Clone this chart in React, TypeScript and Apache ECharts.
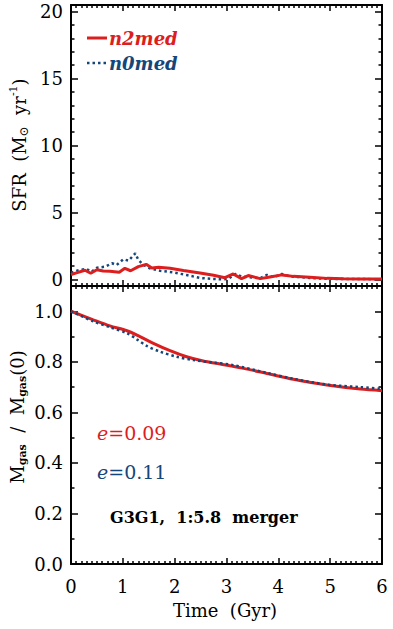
import React, { useEffect, useRef } from "react";
import * as echarts from "echarts";

// ---- data ----
const sfrTimeN2 = [0, 0.12, 0.27, 0.38, 0.5, 0.62, 0.75, 0.93, 1.04, 1.15, 1.3, 1.45, 1.56, 1.69, 1.91, 2.17, 2.49, 2.75, 2.97, 3.13, 3.29, 3.42, 3.65, 3.84, 4.07, 4.29, 4.61, 4.94, 5.26, 5.58, 6.0];
const sfrN2 = [0.35, 0.5, 0.68, 0.45, 0.72, 0.62, 0.6, 0.52, 0.82, 0.64, 0.95, 1.12, 0.85, 0.9, 0.82, 0.66, 0.47, 0.3, 0.12, 0.4, 0.05, 0.28, 0.05, 0.18, 0.33, 0.22, 0.16, 0.07, 0.04, 0.03, 0.02];

const sfrTimeN0 = [0, 0.17, 0.29, 0.4, 0.5, 0.66, 0.79, 0.88, 1.01, 1.11, 1.24, 1.3, 1.4, 1.52, 1.72, 1.97, 2.23, 2.49, 2.75, 2.94, 3.04, 3.17, 3.29, 3.45, 3.65, 3.78, 3.91, 4.07, 4.23, 4.61, 4.94, 5.33, 6.0];
const sfrN0 = [0.5, 0.7, 0.77, 0.57, 0.87, 0.94, 1.2, 1.07, 1.5, 1.39, 1.94, 1.44, 1.07, 0.82, 0.64, 0.52, 0.32, 0.1, 0.02, 0.0, 0.05, 0.4, 0.2, 0.15, 0.08, 0.33, 0.16, 0.4, 0.22, 0.1, 0.04, 0.02, 0.01];

const gasTimeN2 = [0, 0.43, 0.75, 1.08, 1.33, 1.59, 1.91, 2.23, 2.55, 2.88, 3.33, 3.78, 4.29, 4.94, 5.58, 6.0];
const gasN2 = [1.0, 0.966, 0.942, 0.923, 0.9, 0.873, 0.844, 0.82, 0.803, 0.791, 0.774, 0.754, 0.731, 0.708, 0.692, 0.686];

const gasTimeN0 = [0, 0.43, 0.75, 1.08, 1.27, 1.46, 1.72, 2.04, 2.36, 2.75, 3.13, 3.78, 4.29, 4.94, 5.58, 6.0];
const gasN0 = [1.0, 0.96, 0.937, 0.913, 0.889, 0.863, 0.84, 0.82, 0.807, 0.797, 0.787, 0.756, 0.733, 0.71, 0.7, 0.693];

const xTicks = [0, 1, 2, 3, 4, 5, 6];
const sfrTicks = [0, 5, 10, 15, 20];
const gasTicks = [0, 0.2, 0.4, 0.6, 0.8, 1.0];

const RED = "#dc1e1e";
const BLUE = "#15467a";
const FONT = "DejaVu Serif";

function minorOf(major: number[], n: number, lo: number, hi: number) {
  const step = (major[1] - major[0]) / n;
  const out: number[] = [];
  for (let v = major[0] - step * n; v <= major[major.length - 1] + step * n + 1e-9; v += step) {
    const r = Math.round(v * 1000) / 1000;
    if (r < lo - 1e-9 || r > hi + 1e-9) continue;
    if (major.some((m) => Math.abs(m - r) < 1e-6)) continue;
    out.push(r);
  }
  return out;
}

function pairs(t: number[], v: number[]) {
  return t.map((x, i) => [x, v[i]]);
}

export default function App() {
  const ref = useRef<HTMLDivElement>(null);
  useEffect(() => {
    if (!ref.current) return;
    const chart = echarts.init(ref.current, undefined, { renderer: "svg" });

    const lineStyle = { color: "#000", width: 2 };
    const tickStyle = { color: "#000", width: 1.5 };
    const labelStyle = { color: "#000", fontFamily: FONT, fontSize: 18 };

    const xMinor = minorOf(xTicks, 10, 0, 6);
    const sfrMinor = minorOf(sfrTicks, 5, -0.5, 20.5);
    const gasMinor = minorOf(gasTicks, 2, 0, 1.1);

    const xAxes: any[] = [];
    const yAxes: any[] = [];
    const mkX = (grid: number, pos: string, ticks: number[], len: number, line: boolean, labels: boolean) => ({
      type: "value", gridIndex: grid, position: pos, min: 0, max: 6,
      axisLine: { show: line, onZero: false, lineStyle },
      axisTick: { show: true, inside: true, length: len, customValues: ticks, lineStyle: tickStyle },
      axisLabel: { show: labels, customValues: ticks, margin: 13, ...labelStyle, formatter: (v: number) => String(v) },
      splitLine: { show: false },
    });
    const mkY = (grid: number, pos: string, min: number, max: number, ticks: number[], len: number, line: boolean, labels: boolean, fmt: (v: number) => string) => ({
      type: "value", gridIndex: grid, position: pos, min, max,
      axisLine: { show: line, onZero: false, lineStyle },
      axisTick: { show: true, inside: true, length: len, customValues: ticks, lineStyle: tickStyle },
      axisLabel: { show: labels, customValues: ticks, margin: 8, ...labelStyle, formatter: fmt },
      splitLine: { show: false },
    });
    // grid 0 (SFR)
    xAxes.push(mkX(0, "bottom", xTicks, 6, true, false)); // 0
    xAxes.push(mkX(0, "bottom", xMinor, 3, false, false));
    xAxes.push(mkX(0, "top", xTicks, 6, true, false));
    xAxes.push(mkX(0, "top", xMinor, 3, false, false));
    // grid 1 (gas)
    xAxes.push(mkX(1, "bottom", xTicks, 6, true, true)); // 4
    xAxes.push(mkX(1, "bottom", xMinor, 3, false, false));
    xAxes.push(mkX(1, "top", xTicks, 6, true, false));
    xAxes.push(mkX(1, "top", xMinor, 3, false, false));

    const fs = (v: number) => String(v);
    const fg = (v: number) => v.toFixed(1);
    yAxes.push(mkY(0, "left", -0.5, 20.5, sfrTicks, 7, true, true, fs)); // 0
    yAxes.push(mkY(0, "left", -0.5, 20.5, sfrMinor, 3.5, false, false, fs));
    yAxes.push(mkY(0, "right", -0.5, 20.5, sfrTicks, 7, true, false, fs));
    yAxes.push(mkY(0, "right", -0.5, 20.5, sfrMinor, 3.5, false, false, fs));
    yAxes.push(mkY(1, "left", 0, 1.1, gasTicks, 7, true, true, fg)); // 4
    yAxes.push(mkY(1, "left", 0, 1.1, gasMinor, 3.5, false, false, fg));
    yAxes.push(mkY(1, "right", 0, 1.1, gasTicks, 7, true, false, fg));
    yAxes.push(mkY(1, "right", 0, 1.1, gasMinor, 3.5, false, false, fg));

    const dotted = { color: BLUE, width: 2.5, type: [2.5, 3] as any };
    const solid = { color: RED, width: 3 };

    const option: any = {
      animation: false,
      grid: [
        { left: 71, top: 5, width: 311, height: 281 },
        { left: 71, top: 286, width: 311, height: 278 },
      ],
      xAxis: xAxes,
      yAxis: yAxes,
      series: [
        { type: "line", name: "n0med", xAxisIndex: 0, yAxisIndex: 0, data: pairs(sfrTimeN0, sfrN0), showSymbol: false, lineStyle: dotted, z: 2 },
        { type: "line", name: "n2med", xAxisIndex: 0, yAxisIndex: 0, data: pairs(sfrTimeN2, sfrN2), showSymbol: false, lineStyle: solid, z: 3 },
        { type: "line", name: "n2med", xAxisIndex: 4, yAxisIndex: 4, data: pairs(gasTimeN2, gasN2), showSymbol: false, smooth: 0.3, lineStyle: solid, z: 2 },
        { type: "line", name: "n0med", xAxisIndex: 4, yAxisIndex: 4, data: pairs(gasTimeN0, gasN0), showSymbol: false, smooth: 0.3, lineStyle: dotted, z: 3 },
      ],
      graphic: [
        { type: "line", shape: { x1: 87, y1: 38, x2: 107, y2: 38 }, style: { stroke: RED, lineWidth: 3 } },
        { type: "text", x: 109, y: 38, style: { text: "n2med", fill: RED, font: `italic bold 18px "${FONT}"`, textAlign: "left", textVerticalAlign: "middle" } },
        { type: "line", shape: { x1: 87, y1: 63, x2: 107, y2: 63 }, style: { stroke: BLUE, lineWidth: 2.5, lineDash: [2.5, 3] } },
        { type: "text", x: 109, y: 63, style: { text: "n0med", fill: BLUE, font: `italic bold 18px "${FONT}"`, textAlign: "left", textVerticalAlign: "middle" } },
        {
          type: "text", x: 97, y: 433,
          style: { text: "{i|e}{n|=0.09}", fill: RED, textAlign: "left", textVerticalAlign: "middle",
            rich: { i: { fontFamily: FONT, fontSize: 19, fontStyle: "italic", fill: RED }, n: { fontFamily: FONT, fontSize: 19, fill: RED } } },
        },
        {
          type: "text", x: 97, y: 472,
          style: { text: "{i|e}{n|=0.11}", fill: BLUE, textAlign: "left", textVerticalAlign: "middle",
            rich: { i: { fontFamily: FONT, fontSize: 19, fontStyle: "italic", fill: BLUE }, n: { fontFamily: FONT, fontSize: 19, fill: BLUE } } },
        },
        { type: "text", x: 110, y: 517, style: { text: "G3G1,  1:5.8  merger", fill: "#000", font: `bold 16px "${FONT}"`, textAlign: "left", textVerticalAlign: "middle" } },
        { type: "text", x: 225, y: 610, style: { text: "Time  (Gyr)", fill: "#000", font: `18px "${FONT}"`, textAlign: "center", textVerticalAlign: "middle" } },
        {
          type: "text", x: 19, y: 145, rotation: Math.PI / 2,
          style: { text: "{m|SFR  (M}{s|⊙}{m|  yr}{u|-1}{m|)}", textAlign: "center", textVerticalAlign: "middle", fill: "#000",
            rich: { m: { fontFamily: FONT, fontSize: 18, lineHeight: 22, fill: "#000" }, s: { fontFamily: FONT, fontSize: 12, lineHeight: 22, verticalAlign: "bottom", fill: "#000" }, u: { fontFamily: FONT, fontSize: 11, lineHeight: 22, verticalAlign: "top", fill: "#000" } } },
        },
        {
          type: "text", x: 17, y: 417, rotation: Math.PI / 2,
          style: { text: "{m|M}{s|gas}{m|  /  M}{s|gas}{m|(0)}", textAlign: "center", textVerticalAlign: "middle", fill: "#000",
            rich: { m: { fontFamily: FONT, fontSize: 18, lineHeight: 22, fill: "#000" }, s: { fontFamily: FONT, fontSize: 11, lineHeight: 22, verticalAlign: "bottom", fill: "#000", fontWeight: "bold" } } },
        },
      ],
    };
    chart.setOption(option);
    return () => chart.dispose();
  }, []);
  return <div ref={ref} style={{ position: "fixed", left: 0, top: 0, width: 393, height: 629, background: "#fff" }} />;
}
